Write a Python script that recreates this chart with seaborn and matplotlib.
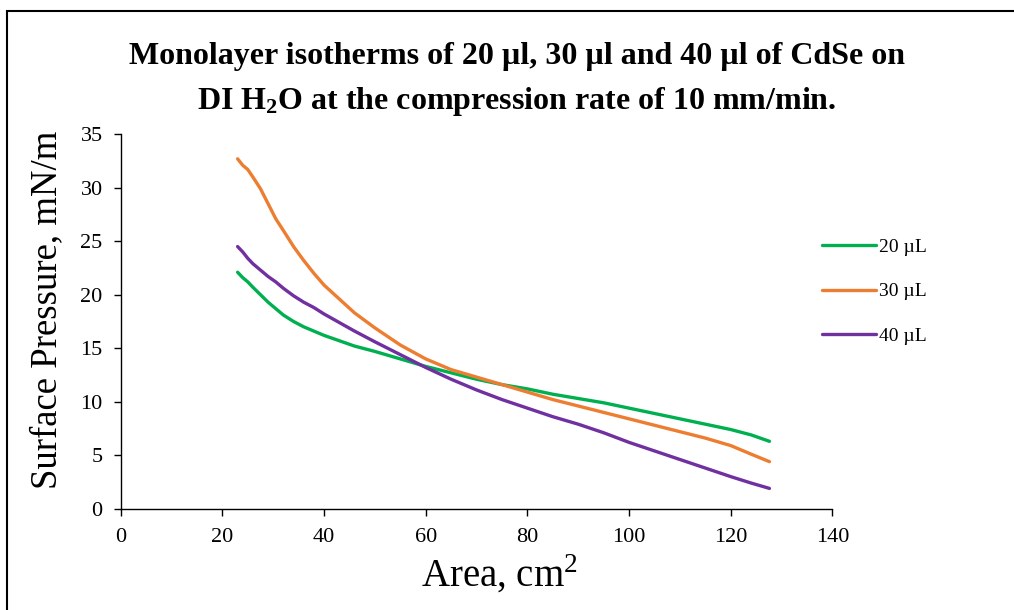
import numpy as np
import pandas as pd
import matplotlib
matplotlib.use("Agg")
import matplotlib.pyplot as plt
import seaborn as sns
from matplotlib.patches import Rectangle

# values
area = [23, 24, 25, 26, 27.5, 29, 30.5, 32, 34, 36, 38, 40, 43, 46, 50, 55, 60,
        65, 70, 75, 80, 85, 90, 95, 100, 105, 110, 115, 120, 124, 127.6]
p20 = [22.1, 21.6, 21.2, 20.7, 20.0, 19.3, 18.7, 18.1, 17.5, 17.0, 16.6, 16.2, 15.7,
       15.2, 14.7, 14.0, 13.3, 12.7, 12.1, 11.6, 11.2, 10.7, 10.3, 9.9, 9.4, 8.9,
       8.4, 7.9, 7.4, 6.9, 6.3]
p30 = [32.7, 32.1, 31.7, 31.0, 29.9, 28.5, 27.1, 26.0, 24.5, 23.2, 22.0, 20.9, 19.6,
       18.3, 16.9, 15.3, 14.0, 13.0, 12.3, 11.6, 10.9, 10.2, 9.6, 9.0, 8.4, 7.8,
       7.2, 6.6, 5.9, 5.1, 4.4]
p40 = [24.5, 24.0, 23.4, 22.9, 22.3, 21.7, 21.2, 20.6, 19.9, 19.3, 18.8, 18.2, 17.4,
       16.6, 15.6, 14.4, 13.2, 12.1, 11.1, 10.2, 9.4, 8.6, 7.9, 7.1, 6.2, 5.4,
       4.6, 3.8, 3.0, 2.4, 1.9]
labels = ["20 µL", "30 µL", "40 µL"]
colors = ["#00B050", "#ED7D31", "#7030A0"]

df = pd.concat([
    pd.DataFrame({"Area": area, "Pressure": p, "Volume": lab})
    for p, lab in zip([p20, p30, p40], labels)
])

sns.set_style("ticks")
plt.rcParams["font.family"] = ["Liberation Serif", "DejaVu Serif"]
plt.rcParams["mathtext.fontset"] = "custom"
plt.rcParams["mathtext.rm"] = "Liberation Serif"
plt.rcParams["mathtext.bf"] = "Liberation Serif:bold"
for k in ["text.color", "axes.labelcolor", "xtick.color", "ytick.color"]:
    plt.rcParams[k] = "black"

fig = plt.figure(figsize=(10.14, 6.1), dpi=100)
ax = fig.add_axes([0.119, 0.166, 0.702, 0.614])

sns.lineplot(data=df, x="Area", y="Pressure", hue="Volume", palette=colors,
             sort=False, linewidth=2.4, ax=ax, legend=True)

ax.set_xlim(0, 140)
ax.set_ylim(0, 35)
ax.set_xticks(range(0, 141, 20))
ax.set_yticks(range(0, 36, 5))
ax.tick_params(labelsize=16, direction="out", length=5, width=1, colors="black")
ax.tick_params(axis="x", pad=9)
ax.tick_params(axis="y", pad=8)
for s in ["top", "right"]:
    ax.spines[s].set_visible(False)
for s in ["left", "bottom"]:
    ax.spines[s].set_linewidth(1)
    ax.spines[s].set_color("black")

ax.set_xlabel("Area, cm$^\\mathrm{2}$", fontsize=28)
ax.set_ylabel("Surface Pressure, mN/m", fontsize=26.5)
ax.xaxis.set_label_coords(0.532, -0.118)
ax.yaxis.set_label_coords(-0.08, 0.53)

ax.legend(loc="center left", bbox_to_anchor=(0.793, 0.522),
          bbox_transform=fig.transFigure, frameon=False, fontsize=14,
          handlelength=2.8, handletextpad=0.15, labelspacing=1.4)

fig.text(0.51, 0.869,
         "Monolayer isotherms of 20 µl, 30 µl and 40 µl of CdSe on\n"
         "DI $\\mathbf{H_2O}$ at the compression rate of 10 mm/min.",
         ha="center", va="center", fontsize=23, fontweight="bold",
         linespacing=1.55)

fig.patches.append(Rectangle((0.007, -0.1), 1.1, 1.082, transform=fig.transFigure,
                             fill=False, edgecolor="black", linewidth=1.5))

fig.savefig("out.png", dpi=100)
